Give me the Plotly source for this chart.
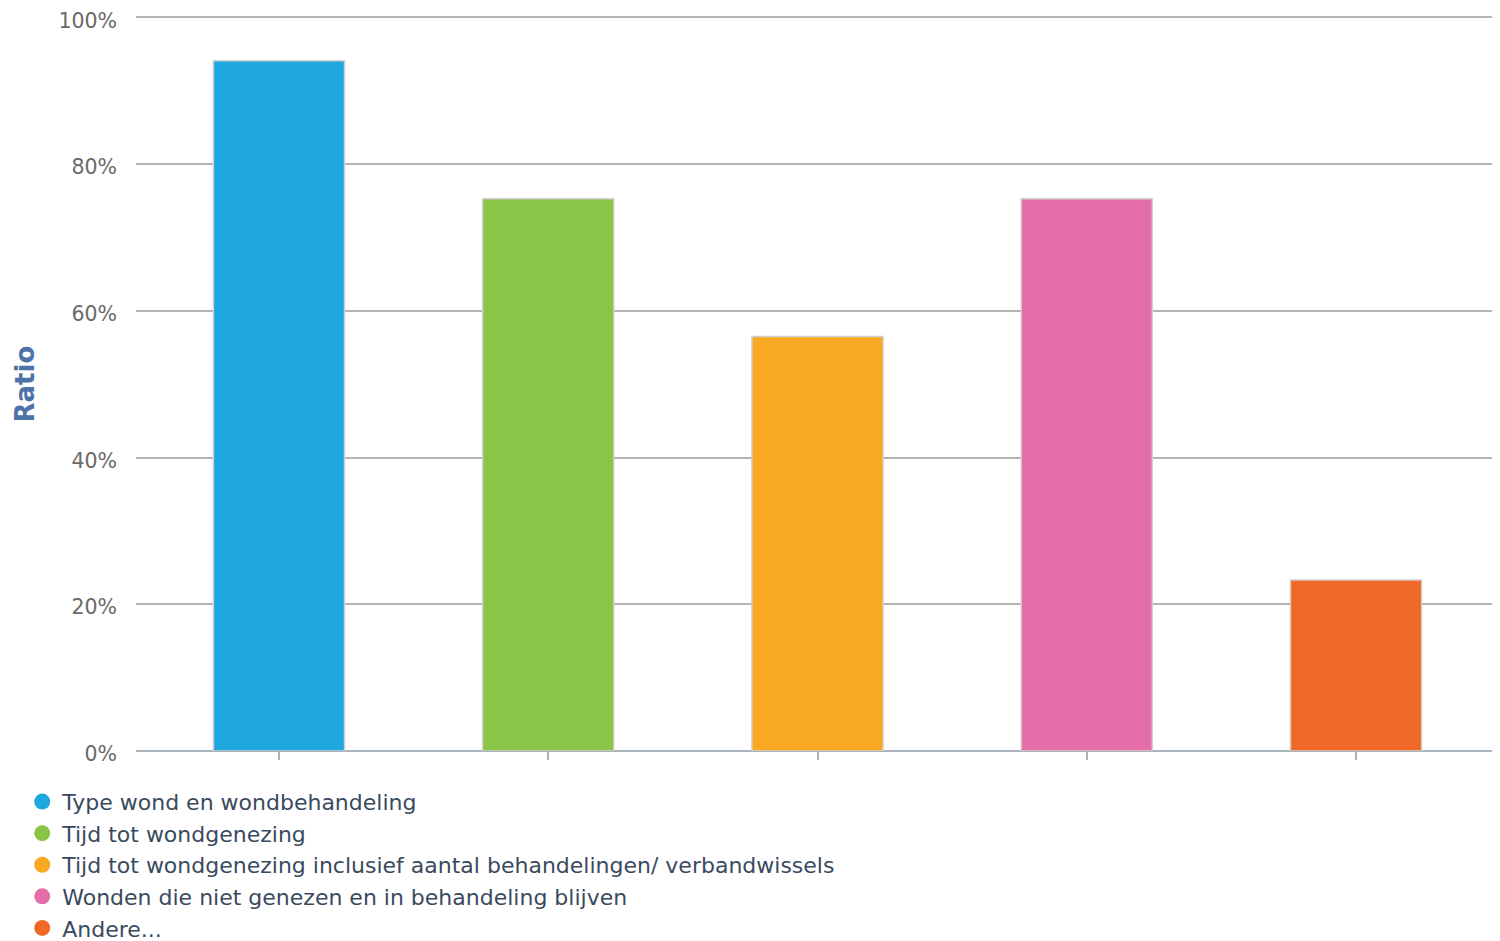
import plotly.graph_objects as go

categories = [
    "Type wond en wondbehandeling",
    "Tijd tot wondgenezing",
    "Tijd tot wondgenezing inclusief aantal behandelingen/ verbandwissels",
    "Wonden die niet genezen en in behandeling blijven",
    "Andere...",
]
values = [94.1, 75.3, 56.5, 75.3, 23.3]
colors = ["#1fa8df", "#8bc547", "#f9a823", "#e56ea9", "#ef6825"]
y_ticks = [0, 20, 40, 60, 80, 100]
y_tick_labels = ["0%", "20%", "40%", "60%", "80%", "100%"]

x_idx = list(range(len(categories)))

fig = go.Figure()
fig.add_trace(go.Bar(
    x=x_idx, y=values, width=0.487,
    marker=dict(color=colors, line=dict(color="#cfcfcf", width=1.5)),
    showlegend=False, hoverinfo="skip",
))
for name, c in zip(categories, colors):
    fig.add_trace(go.Scatter(
        x=[None], y=[None], mode="markers", name=name,
        marker=dict(symbol="circle", size=20, color=c),
    ))

fig.update_layout(
    width=1484, height=945,
    margin=dict(l=128, r=0, t=7.5, b=202, autoexpand=False),
    plot_bgcolor="white", paper_bgcolor="white",
    font=dict(family="DejaVu Sans", size=16, color="#666666"),
    showlegend=True,
    legend=dict(
        x=-0.0839, xanchor="left", y=-0.0405, yanchor="top",
        font=dict(family="DejaVu Sans", size=22, color="#3a4a5e"),
        itemsizing="trace", tracegroupgap=0, itemwidth=30,
        bgcolor="rgba(0,0,0,0)",
    ),
    xaxis=dict(
        range=[-0.531, 4.505], showgrid=False, zeroline=False,
        tickvals=x_idx, ticktext=[""] * 5,
        ticks="outside", ticklen=8, tickwidth=2, tickcolor="#aab2bc",
        showline=False, fixedrange=True, automargin=False,
    ),
    yaxis=dict(
        range=[0, 100.2], tickvals=y_ticks, ticktext=y_tick_labels,
        showgrid=True, gridcolor="#b3b3b3", gridwidth=2,
        zeroline=True, zerolinecolor="#aab2bc", zerolinewidth=2,
        ticks="", ticklabelstandoff=18, ticklabeloverflow="allow",
        ticklabelshift=3,
        tickfont=dict(family="DejaVu Sans", size=20.5, color="#6a6a6a"),
        showline=False, fixedrange=True, automargin=False,
    ),
    annotations=[dict(
        text="<b>Ratio</b>", xref="paper", yref="paper",
        x=-0.0819, y=0.5, xanchor="center", yanchor="middle",
        textangle=-90, showarrow=False,
        font=dict(family="DejaVu Sans", size=26, color="#4d72a6"),
    )],
)

fig.write_html("out.html")
